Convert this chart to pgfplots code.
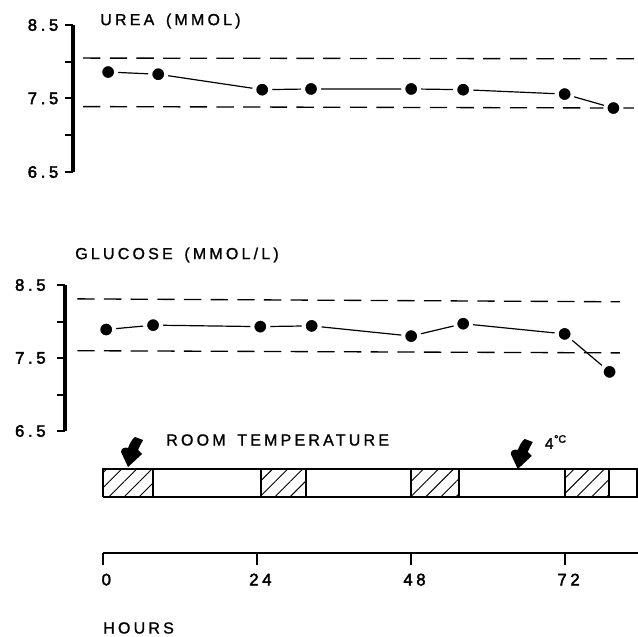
\documentclass[border=0pt]{standalone}
\usepackage{fontspec}
\setmainfont{Liberation Sans}
\newfontfamily\lsp[LetterSpace=20, FakeBold=1.2]{Liberation Sans}
\newfontfamily\lspn[LetterSpace=22, FakeBold=2.5]{Liberation Sans}
\newfontfamily\bfs[FakeBold=2]{Liberation Sans}
\usepackage{pgfplots}
\pgfplotsset{compat=1.18}
\usetikzlibrary{patterns.meta}
\newcommand{\tl}[1]{\lspn\fontsize{12.5}{13}\selectfont #1}
\pgfplotsset{
  panel/.style={
    scale only axis, clip=false,
    axis x line=none, axis y line=left,
    y axis line style={-, line width=2.5pt},
    xmax=83.33, ymin=6.5, ymax=8.5,
    ytick={6.5,7,7.5,8,8.5}, yticklabels={\tl{6.5},,\tl{7.5},,\tl{8.5}},
    tick align=outside, major tick length=6pt,
    every tick/.style={line width=1.5pt, black},
  },
  data/.style={black, line width=0.9pt, mark=*, mark size=6pt,
    mark options={fill=black, draw=white, line width=3pt}},
  ref/.style={black, line width=1pt, dash pattern=on 13pt off 7pt},
}
\begin{document}
\begin{tikzpicture}
\path[use as bounding box] (0,0) rectangle (478.5pt,477pt);
% UREA panel
\begin{axis}[panel, at={(54.75pt,348pt)}, anchor=south west,
  width=423.75pt, height=110.25pt, xmin=-4.673,
  yticklabel style={xshift=-1.5pt}]
\addplot[data] coordinates {(0.8,7.86)(8.6,7.83)(24.8,7.62)(32.4,7.63)(48.0,7.63)(56.1,7.62)(71.9,7.56)(79.5,7.37)};
\addplot[ref] coordinates {(-3.1,8.05)(83.33,8.04)};
\addplot[ref] coordinates {(-3.1,7.39)(83.33,7.37)};
\end{axis}
% GLUCOSE panel
\begin{axis}[panel, at={(48.75pt,153.75pt)}, anchor=south west,
  width=429.75pt, height=109.5pt, xmin=-5.919,
  yticklabel style={xshift=-5pt}]
\addplot[data] coordinates {(0.5,7.89)(7.8,7.95)(24.5,7.93)(32.5,7.94)(48.0,7.80)(56.1,7.97)(71.9,7.83)(78.9,7.31)};
\addplot[ref] coordinates {(-4.0,8.31)(80.5,8.27)};
\addplot[ref] coordinates {(-4.0,7.60)(80.5,7.57)};
\end{axis}
% TIME axis with storage bar
\begin{axis}[scale only axis, clip=false, at={(77.25pt,62.25pt)}, anchor=south west,
  width=401.25pt, height=99.75pt, xmin=0, xmax=83.33, ymin=0, ymax=133,
  axis x line=bottom, axis y line=none,
  x axis line style={-, line width=1.5pt},
  xtick={0,24,48,72}, xticklabels={\tl{0},\tl{24},\tl{48},\tl{72}},
  tick align=outside, major tick length=9pt,
  every tick/.style={line width=1.5pt, black},
  xticklabel style={yshift=-3pt, xshift=2.5pt}]
\addplot[draw=black, line width=1.5pt, pattern={Lines[angle=45,distance=8pt,line width=0.7pt]}] coordinates {(0,56)(7.8,56)(7.8,84)(0,84)(0,56)};
\addplot[draw=black, line width=1.5pt, pattern={Lines[angle=45,distance=8pt,line width=0.7pt]}] coordinates {(24.6,56)(31.6,56)(31.6,84)(24.6,84)(24.6,56)};
\addplot[draw=black, line width=1.5pt, pattern={Lines[angle=45,distance=8pt,line width=0.7pt]}] coordinates {(48.0,56)(55.5,56)(55.5,84)(48.0,84)(48.0,56)};
\addplot[draw=black, line width=1.5pt, pattern={Lines[angle=45,distance=8pt,line width=0.7pt]}] coordinates {(72.0,56)(78.8,56)(78.8,84)(72.0,84)(72.0,56)};
\addplot[draw=black, line width=1.5pt, line join=miter] coordinates {(0,56)(83.15,56)(83.15,84)(0,84)(0,56)};
\coordinate (t1) at (axis cs:3.9,86);
\coordinate (t2) at (axis cs:64.6,84);
\end{axis}
% arrows
\foreach \t in {t1,t2}{
\fill[shift={(\t)}, x=0.75pt, y=0.75pt] (0,0) -- (-7,15)
  .. controls (-7,19) and (-3,20) .. (0,19)
  .. controls (2,24) and (4,28) .. (7,30) -- (15,27)
  .. controls (13,23) and (11,20) .. (10,17) -- (14,13) -- cycle;
}
% texts
\node[anchor=west, inner sep=0pt, font=\lsp\fontsize{12}{13}\selectfont] at (75pt,461.25pt) {UREA\hspace{3pt} (MMOL)};
\node[anchor=west, inner sep=0pt, font=\lsp\fontsize{12}{13}\selectfont] at (56.25pt,285.75pt) {GLUCOSE\hspace{3pt} (MMOL/L)};
\node[anchor=west, inner sep=0pt, font=\lsp\fontsize{12}{13}\selectfont] at (124.5pt,147pt) {ROOM\hspace{3pt} TEMPERATURE};
\node[anchor=west, inner sep=0pt, font=\bfs\fontsize{11.5}{13}\selectfont] at (408.5pt,145.5pt) {4\hspace{0.5pt}\raisebox{0.75ex}{\fontsize{8}{9}\selectfont °C}};
\node[anchor=west, inner sep=0pt, font=\lsp\fontsize{12}{13}\selectfont] at (77.25pt,6pt) {HOURS};
\end{tikzpicture}
\end{document}
